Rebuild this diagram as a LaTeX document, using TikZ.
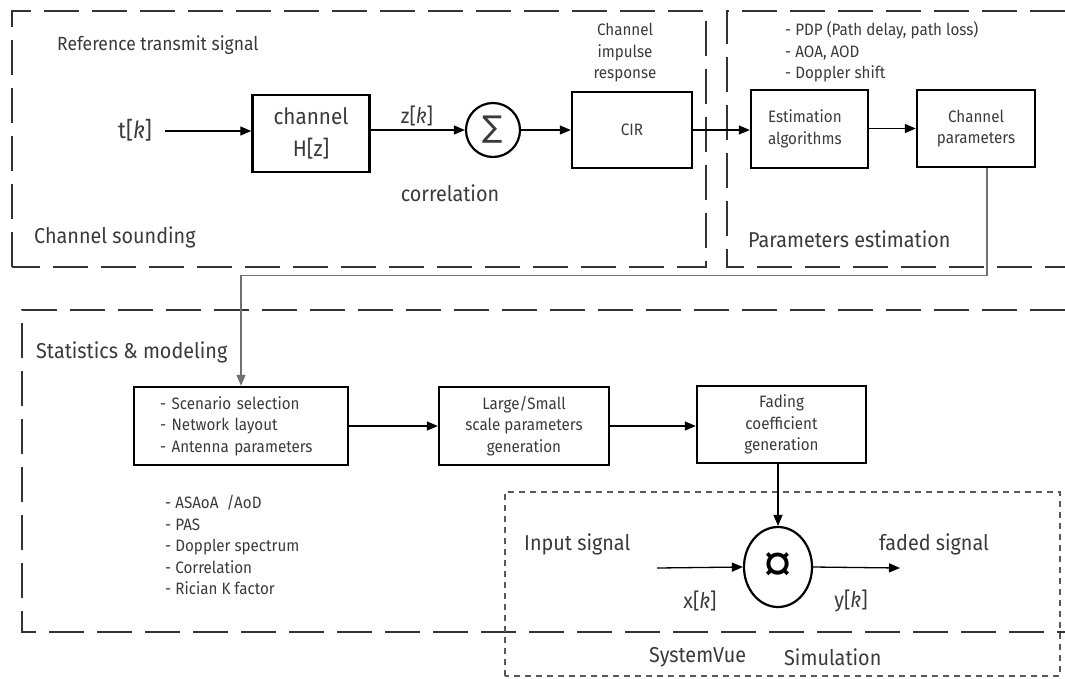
\documentclass[tikz,border=0pt]{standalone}
\usepackage{fontspec}
\setmainfont{Fira Sans}[FakeStretch=0.92]
\newfontfamily\symfont{DejaVu Sans}
\newfontfamily\curfont{Liberation Sans}
\usetikzlibrary{arrows.meta,shapes.geometric}
\definecolor{txt}{HTML}{3A3A3A}
\definecolor{frame}{HTML}{333333}
\definecolor{gline}{HTML}{707070}
\newcommand{\fsmall}{\fontsize{16.5}{21.5}\selectfont}
\newcommand{\fmid}{\fontsize{19}{22}\selectfont}
\newcommand{\fbig}{\fontsize{21.5}{31}\selectfont}
\begin{document}
\begin{tikzpicture}[x=1pt,y=-1pt,
  region/.style={draw=frame,line width=2.6pt,dash pattern=on 35pt off 13pt},
  simregion/.style={draw=black!65,line width=1.8pt,dash pattern=on 6pt off 5pt},
  blockbox/.style={draw=black,line width=2.4pt,inner sep=0pt,text=txt},
  lbl/.style={text=txt,inner sep=0pt},
  conn/.style={draw=black,line width=1.3pt,-{Triangle[length=11pt,width=9pt]}},
  gconn/.style={draw=gline,line width=1.3pt,-{Triangle[length=11pt,width=9pt]}}]
\useasboundingbox (0,0) rectangle (1065,678);
% regions
\draw[region] (12,267) -- (12,11) -- (706,11) -- (706,267) -- cycle;
\draw[region] (1065,11) -- (727,11) -- (727,267) -- (1065,267);
\draw[region] (1065,310) -- (22,310) -- (22,632) -- (1065,632);
\draw[simregion] (505,676) -- (505,492) -- (1060,492) -- (1060,676) -- cycle;
% channel sounding
\node[lbl,anchor=west,font=\fmid] (ref) at (57,45) {Reference transmit signal};
\node[lbl,anchor=west,font=\fbig] (cs) at (34,237) {Channel sounding};
\node[lbl,font=\fontsize{23.5}{28}\selectfont] (tk) at (135,130) {t[\textit{k}]};
\coordinate (tkend) at (165,131);
\node[blockbox,minimum width=117pt,minimum height=77pt,align=center,font=\fontsize{22.5}{32}\selectfont] (ch) at (311,133.5) {channel\\H[z]};
\node[draw=black,line width=2.2pt,circle,minimum size=54pt,inner sep=0pt,text=txt,font=\symfont\fontsize{30}{30}\selectfont] (sum) at (493,130) {∑};
\node[lbl,font=\fbig] (zk) at (417,116) {z[\textit{k}]};
\node[lbl,font=\fbig] (corr) at (450,193) {correlation};
\node[blockbox,minimum width=120pt,minimum height=76pt,font=\fsmall] (cir) at (632,130) {CIR};
\node[lbl,align=center,font=\fsmall] (cirl) at (625,53) {Channel\\impulse\\response};
% parameters estimation
\node[lbl,anchor=west,align=left,font=\fsmall] (pdp) at (785,52) {- PDP (Path delay, path loss)\\- AOA, AOD\\- Doppler shift};
\node[blockbox,minimum width=117pt,minimum height=78pt,text width=83pt,align=left,font=\fsmall] (est) at (809.5,129) {Estimation\\algorithms};
\node[blockbox,minimum width=118pt,minimum height=77pt,align=center,font=\fsmall] (cp) at (976,128.5) {Channel\\parameters};
\node[lbl,anchor=west,font=\fbig] (pe) at (748,239) {Parameters estimation};
% statistics & modeling
\node[lbl,anchor=west,font=\fbig] (sm) at (36,352) {Statistics \& modeling};
\node[blockbox,minimum width=214pt,minimum height=78pt,text width=162pt,align=left,font=\fsmall] (scen) at (241,426) {- Scenario selection\\- Network layout\\- Antenna parameters};
\node[blockbox,minimum width=170pt,minimum height=78pt,align=center,font=\fsmall] (ls) at (524,426) {Large/Small\\scale parameters\\generation};
\node[blockbox,minimum width=169pt,minimum height=77pt,align=center,font=\fsmall] (fad) at (781.5,424.5) {Fading\\coefficient\\generation};
\node[lbl,anchor=west,align=left,font=\fsmall] (stats) at (165,545) {- ASAoA\enspace/AoD\\- PAS\\- Doppler spectrum\\- Correlation\\- Rician K factor};
% simulation
\node[draw=black,line width=2.2pt,ellipse,minimum width=68pt,minimum height=80pt,inner sep=0pt] (mult) at (778,567) {\curfont\fontsize{52}{52}\selectfont ¤};
\node[lbl,anchor=west,font=\fbig] (ins) at (524,544) {Input signal};
\node[lbl,anchor=west,font=\fbig] (fs) at (879,544) {faded signal};
\node[lbl,font=\fbig] (xk) at (700,601) {x[\textit{k}]};
\node[lbl,font=\fbig] (yk) at (851,601) {y[\textit{k}]};
\node[lbl,anchor=west,font=\fbig] (sv) at (649,657) {SystemVue};
\node[lbl,anchor=west,font=\fbig] (simu) at (784,657) {Simulation};
\coordinate (xin) at (657,568);
\coordinate (yout) at (900,568);
% connectors
\draw[conn] (tkend) -- (tkend -| ch.west);
\draw[conn] (ch.east |- sum.west) -- (sum.west);
\draw[conn] (sum.east) -- (cir.west |- sum.east);
\draw[conn] (cir.east) -- (est.west |- cir.east);
\draw[conn] (est.east |- cp.west) -- (cp.west);
\draw[gconn] ([xshift=11pt]cp.south) |- ([yshift=110pt]scen.north) -- (scen.north);
\draw[conn] (scen.east) -- (ls.west);
\draw[conn] (ls.east) -- (fad.west |- ls.east);
\draw[conn] (fad.south -| mult.north) -- (mult.north);
\draw[conn] (xin) -- (mult.west);
\draw[conn] (mult.east) -- (yout);
\end{tikzpicture}
\end{document}
